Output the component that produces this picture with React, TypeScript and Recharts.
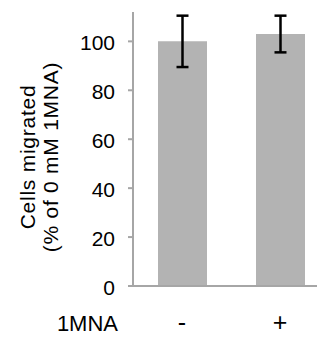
import React from "react";
import { BarChart, Bar, XAxis, YAxis, ErrorBar } from "recharts";

const categories = ["-", "+"];
const values = [100, 103];
const errors = [10.5, 7.5];
const yTicks = [0, 20, 40, 60, 80, 100];

const data = categories.map((c, i) => ({ name: c, value: values[i], err: errors[i] }));

const FONT = '"Liberation Sans", Arial, Helvetica, sans-serif';
const AXIS = "#a6a6a6";

const YTick = (props: any) => {
  const { x, y, payload } = props;
  return (
    <text x={x} y={y} dy={9} textAnchor="end" fontSize={21} fontFamily={FONT} fill="#000">
      {payload.value}
    </text>
  );
};

const YLabel = (props: any) => {
  const vb = props.viewBox || {};
  const cy = vb.y + vb.height / 2 + 8;
  const x1 = vb.x + 27;
  const x2 = vb.x + 50;
  return (
    <g>
      <text
        x={x1}
        y={cy}
        transform={`rotate(-90, ${x1}, ${cy})`}
        textAnchor="middle"
        fontSize={21}
        fontFamily={FONT}
        letterSpacing={0.75}
        fill="#000"
      >
        Cells migrated
      </text>
      <text
        x={x2}
        y={cy}
        transform={`rotate(-90, ${x2}, ${cy})`}
        textAnchor="middle"
        fontSize={21}
        fontFamily={FONT}
        letterSpacing={0.75}
        fill="#000"
      >
        (% of 0 mM 1MNA)
      </text>
    </g>
  );
};

const XLabel = (props: any) => {
  const vb = props.viewBox || {};
  return (
    <text
      x={vb.x - 15}
      y={vb.y + 29}
      dy="0.71em"
      textAnchor="end"
      fontSize={22}
      fontFamily={FONT}
      fill="#000"
    >
      1MNA
    </text>
  );
};

export default function App() {
  return (
    <BarChart
      width={317}
      height={333}
      data={data}
      margin={{ top: 4, right: 0, bottom: 0, left: 0 }}
    >
      <XAxis
        dataKey="name"
        height={55}
        padding={{ left: 0, right: -4 }}
        axisLine={{ stroke: AXIS, strokeWidth: 2 }}
        tickLine={false}
        tickSize={0}
        tickMargin={27}
        tick={{ fontSize: 25, fontFamily: FONT, fill: "#000" }}
        label={<XLabel />}
      />
      <YAxis
        width={125}
        domain={[0, 112]}
        ticks={yTicks}
        interval={0}
        axisLine={{ stroke: AXIS, strokeWidth: 2 }}
        tickLine={{ stroke: AXIS, strokeWidth: 2 }}
        tickSize={5}
        tickMargin={13}
        tick={<YTick />}
        label={<YLabel />}
      />
      <Bar dataKey="value" fill="#b3b3b3" barSize={49} isAnimationActive={false}>
        <ErrorBar dataKey="err" width={6} stroke="#000" strokeWidth={2.5} isAnimationActive={false} />
      </Bar>
    </BarChart>
  );
}
